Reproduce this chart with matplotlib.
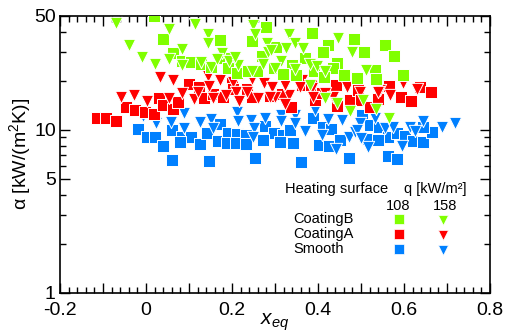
import matplotlib
matplotlib.use("Agg")
import matplotlib.pyplot as plt
from matplotlib.ticker import MultipleLocator, FixedLocator, FuncFormatter, NullFormatter

plt.rcParams['font.family'] = ['Liberation Sans', 'DejaVu Sans']
plt.rcParams['mathtext.fontset'] = 'custom'
plt.rcParams['mathtext.rm'] = 'Liberation Sans'
plt.rcParams['mathtext.it'] = 'Liberation Sans:italic'

# CoatingB, q = 108
cb108_x = [0.019, 0.040, 0.172, 0.063, 0.084, 0.105, 0.128, 0.151, 0.172, 0.198, 0.191, 0.212,
           0.237, 0.258, 0.247, 0.279, 0.302, 0.270, 0.298, 0.323, 0.340, 0.386, 0.423, 0.412,
           0.484, 0.507, 0.556, 0.577, 0.370, 0.444, 0.435, 0.460, 0.491, 0.533, 0.535, 0.598,
           0.349, 0.319, 0.391, 0.414]
cb108_y = [50.0, 36.1, 35.6, 29.6, 26.5, 26.1, 25.3, 24.3, 27.6, 27.6, 24.0, 22.3,
           23.0, 23.0, 35.1, 42.8, 32.2, 28.4, 24.0, 22.3, 25.0, 39.3, 33.2, 30.0,
           36.1, 30.0, 33.2, 28.4, 27.6, 25.7, 24.0, 21.7, 20.8, 23.3, 20.5, 21.7,
           21.7, 22.0, 23.0, 21.1]
# CoatingB, q = 158
cb158_x = [-0.070, -0.040, -0.009, 0.021, 0.053, 0.084, 0.053, 0.084, 0.114, 0.144, 0.144, 0.151,
           0.177, 0.165, 0.193, 0.214, 0.249, 0.253, 0.333, 0.281, 0.284, 0.326, 0.347, 0.365,
           0.447, 0.479, 0.272, 0.314, 0.347, 0.381, 0.398, 0.416, 0.512, 0.300, 0.381, 0.416,
           0.444, 0.474, 0.505, 0.535, 0.565, 0.247, 0.291, 0.207, 0.128]
cb158_y = [45.2, 33.2, 28.0, 25.3, 41.6, 31.3, 27.2, 25.0, 44.6, 38.7, 34.1, 24.3,
           29.6, 27.2, 26.5, 25.0, 44.0, 38.7, 38.7, 34.1, 30.0, 31.8, 34.1, 31.8,
           36.6, 30.0, 25.3, 26.5, 23.6, 25.3, 24.6, 23.0, 23.3, 24.0, 18.8, 15.7,
           14.6, 13.0, 15.2, 13.4, 11.8, 23.0, 30.9, 28.0, 26.1]
# CoatingA, q = 108
ca108_x = [-0.114, -0.093, -0.070, -0.047, -0.026, -0.002, 0.019, 0.030, 0.040, 0.063, 0.074, 0.100,
           0.123, 0.135, 0.156, 0.179, 0.200, 0.202, 0.235, 0.247, 0.288, 0.316, 0.337, 0.363,
           0.384, 0.393, 0.444, 0.474, 0.493, 0.500, 0.521, 0.540, 0.565, 0.593, 0.616, 0.637,
           0.663, 0.442, 0.409]
ca108_y = [11.8, 11.8, 11.3, 13.8, 13.2, 12.9, 12.5, 15.7, 14.2, 13.4, 14.8, 19.1,
           18.3, 15.7, 16.6, 15.9, 19.4, 17.8, 17.8, 15.9, 16.1, 16.6, 13.8, 18.8,
           18.8, 15.2, 14.0, 15.2, 17.5, 15.2, 13.8, 15.5, 18.6, 15.9, 15.0, 18.3,
           17.1, 18.8, 16.8]
# CoatingA, q = 158
ca158_x = [-0.058, -0.028, 0.002, 0.033, 0.063, 0.053, 0.084, 0.112, 0.144, 0.172, 0.147, 0.202,
           0.209, 0.216, 0.247, 0.260, 0.274, 0.293, 0.300, 0.333, 0.323, 0.363, 0.386, 0.416,
           0.470, 0.498, 0.544, 0.567, 0.598, 0.630, 0.435, 0.121, 0.156, 0.186, 0.235, 0.288,
           0.467, 0.540, 0.323, 0.388, 0.358]
ca158_y = [15.9, 16.4, 15.0, 21.1, 20.2, 15.7, 16.8, 15.5, 21.4, 20.2, 18.6, 19.7,
           17.1, 15.0, 20.5, 15.7, 19.4, 18.3, 15.9, 16.4, 14.4, 20.2, 18.1, 16.8,
           19.1, 17.1, 17.5, 16.4, 19.4, 17.8, 15.9, 17.1, 15.7, 16.4, 17.1, 15.9,
           18.3, 17.1, 18.8, 15.9, 18.3]
# Smooth, q = 108
sm108_x = [-0.019, 0.002, 0.021, 0.040, 0.060, 0.084, 0.105, 0.126, 0.142, 0.060, 0.147, 0.167,
           0.172, 0.191, 0.188, 0.212, 0.209, 0.233, 0.233, 0.253, 0.079, 0.277, 0.298, 0.319,
           0.272, 0.342, 0.388, 0.412, 0.430, 0.402, 0.426, 0.451, 0.502, 0.521, 0.542, 0.563,
           0.516, 0.540, 0.584, 0.602, 0.621, 0.644, 0.665, 0.644, 0.360, 0.472, 0.563, 0.584,
           0.312, 0.335]
sm108_y = [10.1, 9.03, 9.03, 7.96, 9.97, 9.03, 9.03, 8.18, 9.56, 6.53, 6.43, 8.54,
           10.9, 9.56, 8.30, 9.42, 8.30, 9.29, 8.18, 6.71, 8.42, 10.55, 9.56, 9.29,
           8.66, 8.30, 11.8, 10.4, 10.1, 8.07, 7.96, 8.66, 12.3, 10.7, 10.4, 9.03,
           8.78, 8.66, 9.56, 9.16, 8.54, 8.42, 9.69, 10.4, 6.35, 6.71, 6.91, 6.62,
           8.42, 9.97]
# Smooth, q = 158
sm158_x = [-0.007, 0.023, 0.058, 0.088, 0.088, 0.126, 0.151, 0.156, 0.212, 0.214, 0.244, 0.251,
           0.277, 0.314, 0.314, 0.347, 0.370, 0.393, 0.423, 0.456, 0.472, 0.486, 0.442, 0.516,
           0.533, 0.556, 0.574, 0.595, 0.614, 0.644, 0.688, 0.719, 0.409, 0.498, 0.249, 0.626,
           0.491, 0.500, 0.347]
sm158_y = [12.2, 11.0, 11.2, 12.7, 10.3, 11.2, 11.6, 10.3, 12.9, 11.3, 11.5, 10.3,
           11.8, 12.3, 11.3, 12.3, 9.83, 13.2, 11.6, 11.5, 9.03, 9.69, 7.63, 7.84,
           11.8, 10.3, 10.4, 7.96, 10.4, 11.3, 10.4, 11.0, 9.29, 11.0, 9.03, 9.83,
           9.97, 8.91, 11.0]

surfaces = ['CoatingB', 'CoatingA', 'Smooth']
colors = {'CoatingB': '#80ff00', 'CoatingA': '#ff0000', 'Smooth': '#0080ff'}

fig = plt.figure(figsize=(5.05, 3.33), dpi=100)
ax = fig.add_axes([0.1188, 0.121, 0.8515, 0.831])

series = [
    (sm108_x, sm108_y, 's', colors['Smooth']),
    (sm158_x, sm158_y, 'v', colors['Smooth']),
    (ca108_x, ca108_y, 's', colors['CoatingA']),
    (ca158_x, ca158_y, 'v', colors['CoatingA']),
    (cb108_x, cb108_y, 's', colors['CoatingB']),
    (cb158_x, cb158_y, 'v', colors['CoatingB']),
]
for xs, ys, m, c in series:
    ax.scatter(xs, ys, marker=m, s=78, c=c, edgecolors='white', linewidths=0.7, zorder=3)

ax.set_yscale('log')
ax.set_xlim(-0.2, 0.8)
ax.set_ylim(1, 50)

ax.xaxis.set_major_locator(MultipleLocator(0.1))
ax.xaxis.set_minor_locator(MultipleLocator(0.02))
ax.xaxis.set_major_formatter(FuncFormatter(
    lambda v, p: ('%g' % round(v, 1)) if abs(round(v / 0.2) * 0.2 - v) < 1e-6 else ''))
ax.yaxis.set_major_locator(FixedLocator([1, 5, 10, 50]))
ax.yaxis.set_minor_locator(FixedLocator([2, 3, 4, 6, 7, 8, 9, 20, 30, 40]))
ax.yaxis.set_major_formatter(FuncFormatter(lambda v, p: '%d' % v))
ax.yaxis.set_minor_formatter(NullFormatter())

ax.tick_params(which='both', direction='in', top=True, right=True, labelsize=14, width=1)
ax.tick_params(which='major', length=7)
ax.tick_params(axis='x', which='major', pad=6.5)
ax.tick_params(axis='y', which='major', pad=3)
ax.tick_params(which='minor', length=4)
for sp in ax.spines.values():
    sp.set_linewidth(1.2)

ax.set_xlabel('$x_{eq}$', fontsize=15, labelpad=-5)
ax.set_ylabel('α [kW/(m$^2$K)]', fontsize=14, labelpad=1)

# legend built by hand
ax.text(0.523, 0.375, 'Heating surface', transform=ax.transAxes, fontsize=10.5, va='center')
ax.text(0.800, 0.375, 'q [kW/m²]', transform=ax.transAxes, fontsize=10.5, va='center')
ax.text(0.786, 0.315, '108', transform=ax.transAxes, fontsize=10.5, va='center', ha='center')
ax.text(0.895, 0.315, '158', transform=ax.transAxes, fontsize=10.5, va='center', ha='center')
rows_y = [0.266, 0.212, 0.158]
for name, yy in zip(surfaces, rows_y):
    ax.text(0.542, yy, name, transform=ax.transAxes, fontsize=10.5, va='center')
    ax.plot([0.788], [yy], 's', ms=7, color=colors[name], mec='white', mew=0.5,
            transform=ax.transAxes)
    ax.plot([0.891], [yy - 0.005], 'v', ms=7.5, color=colors[name], mec='white', mew=0.5,
            transform=ax.transAxes)

fig.savefig('out.png', dpi=100)
